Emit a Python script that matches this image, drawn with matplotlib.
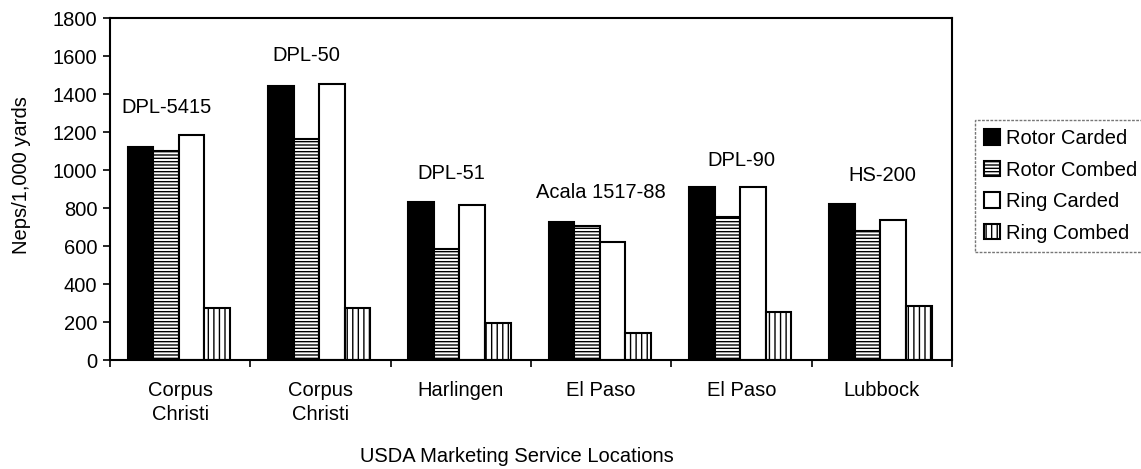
import matplotlib
matplotlib.use('Agg')
import matplotlib.pyplot as plt
import numpy as np

# Data
locations = ['Corpus\nChristi', 'Corpus\nChristi', 'Harlingen', 'El Paso', 'El Paso', 'Lubbock']
varieties = ['DPL-5415', 'DPL-50', 'DPL-51', 'Acala 1517-88', 'DPL-90', 'HS-200']
rotor_carded = [1123, 1444, 830, 728, 909, 821]
rotor_combed = [1100, 1163, 584, 707, 754, 681]
ring_carded = [1184, 1456, 819, 619, 909, 740]
ring_combed = [275, 275, 195, 140, 251, 286]
series_names = ['Rotor Carded', 'Rotor Combed', 'Ring Carded', 'Ring Combed']

# variety label placement (data coords)
label_x = [-0.10, 0.90, 1.93, 3.0, 4.0, 5.0]
label_y = [1332, 1605, 984, 884, 1053, 974]

plt.rcParams['font.family'] = ['Liberation Sans', 'DejaVu Sans']
plt.rcParams['hatch.linewidth'] = 1.0
plt.rcParams['hatch.color'] = 'black'
FS = 14.5


def main():
    fig = plt.figure(figsize=(11.41, 4.69), dpi=100)
    ax = fig.add_axes([110 / 1141, 1 - 360 / 469, (952 - 110) / 1141, (360 - 18.3) / 469])

    x = np.arange(len(locations))
    w = 0.182
    styles = [
        dict(facecolor='black', hatch=None),
        dict(facecolor='white', hatch='-----'),
        dict(facecolor='white', hatch=None),
        dict(facecolor='white', hatch='|||'),
    ]
    series = [rotor_carded, rotor_combed, ring_carded, ring_combed]
    for i, (vals, st, name) in enumerate(zip(series, styles, series_names)):
        ax.bar(x + (i - 1.5) * w - 0.01, vals, width=w, facecolor=st['facecolor'],
               hatch=st['hatch'], edgecolor='black', linewidth=1.5, label=name)

    for lx, ly, t in zip(label_x, label_y, varieties):
        ax.text(lx, ly, t, ha='center', va='center', fontsize=FS)

    ax.set_xlim(-0.5, len(locations) - 0.5)
    ax.set_ylim(0, 1800)
    ax.set_yticks(np.arange(0, 1801, 200))
    ax.set_xticks(np.arange(-0.5, len(locations)), minor=False)
    ax.set_xticklabels([])
    ax.set_xticks(x, minor=True)
    ax.set_xticklabels(locations, minor=True, fontsize=FS, linespacing=1.35)
    ax.tick_params(axis='x', which='major', direction='out', length=5, width=1.2)
    ax.tick_params(axis='x', which='minor', length=0, pad=15)
    ax.tick_params(axis='y', direction='out', length=5, width=1.2, labelsize=FS, pad=4)
    for s in ax.spines.values():
        s.set_linewidth(1.5)

    ax.set_ylabel('Neps/1,000 yards', fontsize=FS)
    ax.yaxis.set_label_coords(-0.094, 0.54)
    ax.set_xlabel('USDA Marketing Service Locations', fontsize=FS)
    ax.xaxis.set_label_coords(0.483, -0.255)

    leg = fig.legend(loc='upper left', bbox_to_anchor=(975 / 1141, 1 - 120 / 469),
                     bbox_transform=fig.transFigure, fontsize=FS, frameon=True,
                     fancybox=False, handlelength=0.8, handleheight=0.8,
                     handletextpad=0.3, labelspacing=0.62, borderpad=0.45,
                     borderaxespad=0)
    leg.get_frame().set_edgecolor('#555555')
    leg.get_frame().set_linestyle((0, (2, 1)))
    leg.get_frame().set_linewidth(1.0)

    fig.savefig('out.png', dpi=100)


if __name__ == "__main__":
    main()
